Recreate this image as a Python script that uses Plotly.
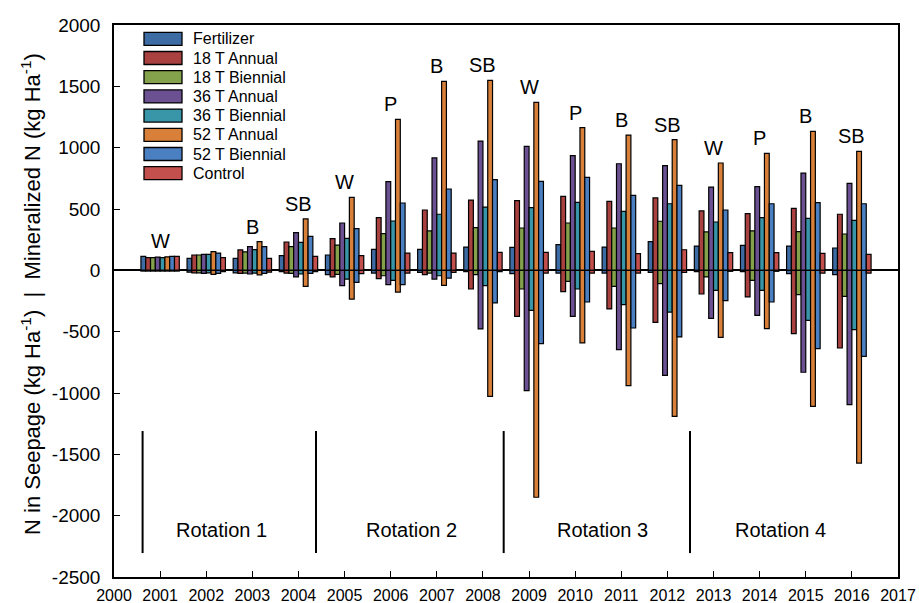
import plotly.graph_objects as go

# ---------------- data ----------------
years = list(range(2001, 2017))
treatments = ["Fertilizer", "18 T Annual", "18 T Biennial", "36 T Annual",
              "36 T Biennial", "52 T Annual", "52 T Biennial", "Control"]

min_fertilizer = [114, 98, 98, 120, 125, 171, 171, 190, 187, 209, 190, 234, 198, 204, 198, 182]
min_18t_annual = [103, 125, 166, 231, 258, 429, 492, 573, 568, 603, 562, 590, 484, 462, 505, 457]
min_18t_biennial = [103, 125, 150, 193, 206, 299, 321, 348, 345, 386, 345, 400, 313, 321, 315, 296]
min_36t_annual = [108, 130, 193, 307, 386, 723, 916, 1054, 1011, 935, 869, 853, 679, 682, 793, 709]
min_36t_biennial = [103, 130, 169, 228, 261, 402, 457, 516, 511, 554, 481, 543, 394, 429, 424, 408]
min_52t_annual = [110, 152, 234, 419, 595, 1231, 1540, 1549, 1369, 1163, 1103, 1065, 875, 954, 1133, 970]
min_52t_biennial = [114, 141, 193, 277, 340, 549, 663, 739, 725, 758, 611, 693, 492, 543, 552, 543]
min_control = [114, 103, 98, 114, 120, 141, 141, 147, 147, 155, 136, 168, 144, 144, 139, 130]

see_fertilizer = [-6, -15, -20, -11, -35, -22, -16, -10, -27, -22, -22, -16, -10, -10, -27, -35]
see_18t_annual = [-6, -20, -25, -22, -54, -68, -35, -152, -375, -174, -315, -424, -193, -217, -516, -633]
see_18t_biennial = [-6, -20, -22, -25, -33, -44, -22, -35, -152, -90, -130, -109, -54, -82, -198, -212]
see_36t_annual = [-6, -25, -30, -54, -125, -117, -71, -478, -981, -375, -647, -856, -391, -367, -831, -1095]
see_36t_biennial = [-6, -20, -22, -30, -71, -82, -44, -125, -326, -152, -280, -340, -163, -163, -408, -484]
see_52t_annual = [-6, -33, -37, -130, -234, -177, -122, -1027, -1850, -592, -940, -1190, -546, -476, -1109, -1571]
see_52t_biennial = [-6, -25, -25, -25, -98, -117, -63, -266, -598, -258, -470, -543, -247, -258, -639, -701]
see_control = [-6, -10, -15, -11, -27, -22, -16, -10, -22, -22, -22, -16, -8, -8, -22, -22]

crop_labels = ["W", "", "B", "SB", "W", "P", "B", "SB", "W", "P", "B", "SB", "W", "P", "B", "SB"]

rotation_names = ["Rotation 1", "Rotation 2", "Rotation 3", "Rotation 4"]
rotation_label_x = [2002.33, 2006.46, 2010.59, 2014.46]
rotation_bounds = [2000.62, 2004.38, 2008.45, 2012.49]

y_tick_vals = [-2500, -2000, -1500, -1000, -500, 0, 500, 1000, 1500, 2000]
y_tick_text = ["-2500", "-2000", "-1500", "-1000", "-500", "0", "500", "1000", "1500", "2000"]
x_tick_vals = list(range(2000, 2018))
x_tick_text = [str(v) for v in x_tick_vals]

mineralized = [min_fertilizer, min_18t_annual, min_18t_biennial, min_36t_annual,
               min_36t_biennial, min_52t_annual, min_52t_biennial, min_control]
seepage = [see_fertilizer, see_18t_annual, see_18t_biennial, see_36t_annual,
           see_36t_biennial, see_52t_annual, see_52t_biennial, see_control]

# ---------------- style ----------------
colors = ["#3D6CA4", "#A8413F", "#83A24B", "#6B5192", "#3995A8", "#D8803A", "#4A7FC2", "#C4504D"]
FONT = "Liberation Sans, Arial, Helvetica, sans-serif"
BAR_W = 0.104
GROUP_START = -0.416

fig = go.Figure()
for i, name in enumerate(treatments):
    for vals in (mineralized[i], seepage[i]):
        fig.add_trace(go.Bar(
            x=years, y=vals, name=name, showlegend=False,
            offset=GROUP_START + i * BAR_W, width=BAR_W,
            marker=dict(color=colors[i], line=dict(color="black", width=1.2)),
        ))

# crop labels above the tallest bar of each year
for j, yr in enumerate(years):
    if crop_labels[j]:
        top = max(m[j] for m in mineralized)
        fig.add_annotation(x=yr, y=top, text=crop_labels[j], showarrow=False,
                           yanchor="middle", yshift=15,
                           font=dict(family=FONT, size=20, color="black"))

# rotation separators and labels
for xb in rotation_bounds:
    fig.add_shape(type="line", x0=xb, x1=xb, y0=-1310, y1=-2305,
                  xref="x", yref="y", line=dict(color="black", width=2))
for name, xl in zip(rotation_names, rotation_label_x):
    fig.add_annotation(x=xl, y=-2120, text=name, showarrow=False,
                       font=dict(family=FONT, size=20, color="black"))

# custom legend (wide swatches)
PLOT_L, PLOT_R, PLOT_T, PLOT_H = 114.0, 898.0, 25.0, 552.0
def px_x(p):
    return (p - PLOT_L) / (PLOT_R - PLOT_L)
def px_y(p):
    return 1 - (p - PLOT_T) / PLOT_H
for i, name in enumerate(treatments):
    yc = 38.8 + 19.2 * i
    fig.add_shape(type="rect", xref="paper", yref="paper",
                  x0=px_x(144), x1=px_x(182), y0=px_y(yc + 6.5), y1=px_y(yc - 6.5),
                  fillcolor=colors[i], line=dict(color="black", width=1.3))
    fig.add_annotation(xref="paper", yref="paper", x=px_x(191), y=px_y(yc),
                       text=name, showarrow=False, xanchor="left", yanchor="middle",
                       font=dict(family=FONT, size=16, color="black"))

# y-axis title
fig.add_annotation(xref="paper", yref="paper", x=px_x(31), y=px_y(294),
                   text="N in Seepage (kg Ha<sup>-1</sup>)  |  Mineralized N (kg Ha<sup>-1</sup>)",
                   textangle=-90, showarrow=False, xanchor="center", yanchor="middle",
                   font=dict(family=FONT, size=22, color="black"))

fig.update_layout(
    width=919, height=603,
    margin=dict(l=114, r=21, t=25, b=26, autoexpand=False),
    barmode="overlay",
    plot_bgcolor="white", paper_bgcolor="white",
    showlegend=False,
    font=dict(family=FONT, color="black"),
)
fig.update_xaxes(range=[2000, 2017], tickmode="array", tickvals=x_tick_vals, ticktext=x_tick_text,
                 ticks="inside", ticklen=6, tickwidth=1.3, tickcolor="black",
                 showline=True, linecolor="black", linewidth=1.5, mirror=True,
                 showgrid=False, zeroline=False, tickfont=dict(family=FONT, size=16),
                 ticklabelstandoff=3, automargin=False)
fig.update_yaxes(range=[-2500, 2000], tickmode="array", tickvals=y_tick_vals, ticktext=y_tick_text,
                 ticks="inside", ticklen=6, tickwidth=1.3, tickcolor="black",
                 showline=True, linecolor="black", linewidth=1.5, mirror=True,
                 showgrid=False, zeroline=True, zerolinecolor="black", zerolinewidth=2,
                 tickfont=dict(family=FONT, size=19), ticklabelstandoff=8, automargin=False)

fig.write_html("out.html")
